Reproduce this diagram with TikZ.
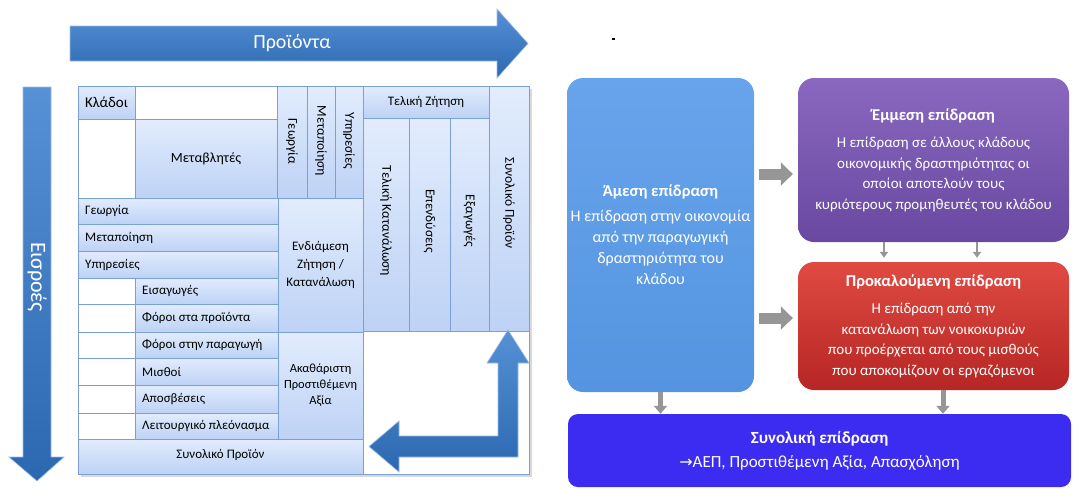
\documentclass[tikz,border=0pt]{standalone}
\usepackage{fontspec}
\setmainfont{Carlito}
\newfontfamily\arrowfont{DejaVu Sans}
\usetikzlibrary{positioning,arrows.meta}

\definecolor{gridline}{RGB}{122,160,214}
\definecolor{cellhi}{RGB}{226,236,253}
\definecolor{celllo}{RGB}{189,210,245}
\definecolor{barhi}{RGB}{86,145,214}
\definecolor{barlo}{RGB}{44,104,176}
\definecolor{directhi}{RGB}{104,164,236}
\definecolor{directlo}{RGB}{84,148,224}
\definecolor{indirecthi}{RGB}{138,104,192}
\definecolor{indirectlo}{RGB}{104,72,160}
\definecolor{inducedhi}{RGB}{224,74,66}
\definecolor{inducedlo}{RGB}{182,38,36}
\definecolor{totalc}{RGB}{60,44,242}
\definecolor{linkgrey}{RGB}{150,150,150}

\newcommand{\headline}{\bfseries\fontsize{16.5}{20}\selectfont}

\tikzset{
  cell/.style={draw=gridline, line width=0.8pt, top color=cellhi, bottom color=celllo},
  blank/.style={draw=gridline, line width=0.8pt, fill=white},
  celltext/.style={font=\fontsize{13}{15}\selectfont, align=center, inner sep=0pt},
  rowtext/.style={font=\fontsize{13}{15}\selectfont, anchor=west, inner sep=0pt},
  coltext/.style={font=\fontsize{13.5}{15}\selectfont, rotate=-90, inner sep=0pt},
  bigarrow/.style={draw=barhi!60!white, line width=0.6pt, top color=barhi, bottom color=barlo},
  arrowlabel/.style={font=\fontsize{20}{24}\selectfont, text=white},
  effect/.style={rounded corners=16pt, text=white, align=center, inner sep=0pt, font=\fontsize{15}{20.5}\selectfont},
  linkarrow/.style={draw=linkgrey, line width=11pt, -{Triangle[width=23pt,length=12pt]}, shorten <=5pt, shorten >=5pt},
  droparrow/.style={draw=linkgrey, line width=5pt, -{Triangle[width=13pt,length=8pt]}},
  tinyarrow/.style={draw=linkgrey, line width=2.5pt, -{Triangle[width=8pt,length=6pt]}, shorten >=4pt}
}

\begin{document}
\begin{tikzpicture}[x=1pt, y=-1pt]
  \useasboundingbox (0,0) rectangle (1073,488);

  % block arrows along the table
  \path[bigarrow] (70,26) -- (497,26) -- (497,9) -- (528,43.5) -- (497,78) -- (497,61) -- (70,61) -- cycle;
  \node[arrowlabel] (outputs) at (292,43.5) {Προϊόντα};
  \path[bigarrow] (23,87) -- (51,87) -- (51,457) -- (64,457) -- (37,481) -- (9,457) -- (23,457) -- cycle;
  \node[arrowlabel, font=\fontsize{22}{24}\selectfont, rotate=-90] (inputs) at (37,277) {Εισροές};

  % input-output table
  \fill[black!15] (81,89) rectangle (532,477);
  \draw[cell] (78,86) rectangle (135,119);
  \node[celltext, font=\fontsize{15}{17}\selectfont] (branches) at (106.5,102.5) {Κλάδοι};
  \draw[blank] (135,86) rectangle (277,119);
  \draw[blank] (78,119) rectangle (135,198);
  \draw[cell] (135,119) rectangle (277,198);
  \node[celltext, font=\fontsize{14}{16}\selectfont] (variables) at (206,158.5) {Μεταβλητές};
  \foreach \nm/\xa/\xb/\txt in {geo/277/307/Γεωργία, man/307/335/Μεταποίηση, serv/335/363/Υπηρεσίες} {
    \draw[cell] (\xa,86) rectangle (\xb,198);
    \node[coltext] (col\nm) at ({(\xa+\xb)/2},141) {\txt};
  }
  \draw[cell] (363,86) rectangle (489,118);
  \node[celltext] (finaldemand) at (426,102) {Τελική Ζήτηση};
  \foreach \nm/\xa/\xb/\txt in {cons/363/409/Τελική Κατανάλωση, inv/409/450/Επενδύσεις, exp/450/489/Εξαγωγές} {
    \draw[cell] (\xa,118) rectangle (\xb,331);
    \node[coltext] (col\nm) at ({(\xa+\xb)/2},221) {\txt};
  }
  \draw[cell] (489,86) rectangle (529,331);
  \node[coltext] (coltotal) at (509,203) {Συνολικό Προϊόν};

  % rows
  \foreach \nm/\ya/\yb/\txt in {geo/198/224/Γεωργία, man/224/251/Μεταποίηση, serv/251/278/Υπηρεσίες} {
    \draw[cell] (78,\ya) rectangle (278,\yb);
    \node[rowtext] (row\nm) at (85,{(\ya+\yb)/2}) {\txt};
  }
  \foreach \nm/\ya/\yb/\txt in {imp/278/304/Εισαγωγές, ptax/304/332/Φόροι στα προϊόντα,
      gtax/332/358/Φόροι στην παραγωγή, wage/358/385/Μισθοί, depr/385/413/Αποσβέσεις,
      surp/413/439/Λειτουργικό πλεόνασμα} {
    \draw[blank] (78,\ya) rectangle (135,\yb);
    \draw[cell] (135,\ya) rectangle (278,\yb);
    \node[rowtext] (row\nm) at (142,{(\ya+\yb)/2}) {\txt};
  }
  \draw[cell] (278,198) rectangle (363,332);
  \node[celltext, font=\fontsize{13}{18}\selectfont] (intermediate) at (320.5,265) {Ενδιάμεση\\Ζήτηση /\\Κατανάλωση};
  \draw[cell] (278,332) rectangle (363,439);
  \node[celltext, font=\fontsize{12.5}{16}\selectfont] (gva) at (320.5,385.5) {Ακαθάριστη\\Προστιθέμενη\\Αξία};
  \draw[cell] (78,439) rectangle (363,474);
  \node[celltext] (totalrow) at (220.5,455) {Συνολικό Προϊόν};
  \draw[blank] (363,331) rectangle (529,474);

  % return arrow in the empty corner
  \path[bigarrow] (508,330) -- (529,363) -- (518,363) -- (518,457) -- (399,457) -- (399,472)
    -- (369,446.5) -- (399,421) -- (399,436) -- (498,436) -- (498,363) -- (487,363) -- cycle;

  \fill (612,37.5) rectangle (614.5,39.5);

  % impact boxes
  \node[effect, font=\fontsize{16}{21}\selectfont, top color=directhi, bottom color=directlo, minimum width=187pt, minimum height=314pt] (direct) at (660.5,235)
    {{\headline Άμεση επίδραση}\\[4pt] Η επίδραση στην οικονομία\\ από την παραγωγική\\ δραστηριότητα του\\ κλάδου};
  \node[effect, top color=indirecthi, bottom color=indirectlo, minimum width=271pt, minimum height=164pt] (indirect) at (933.5,160)
    {{\headline Έμμεση επίδραση}\\[7pt] Η επίδραση σε άλλους κλάδους\\ οικονομικής δραστηριότητας οι\\ οποίοι αποτελούν τους\\ κυριότερους προμηθευτές του κλάδου};
  \node[effect, top color=inducedhi, bottom color=inducedlo, minimum width=271pt, minimum height=128pt] (induced) at (933.5,326)
    {{\headline Προκαλούμενη επίδραση}\\[7pt] Η επίδραση από την\\ κατανάλωση των νοικοκυριών\\ που προέρχεται από τους μισθούς\\ που αποκομίζουν οι εργαζόμενοι};
  \node[effect, fill=totalc, rounded corners=10pt, minimum width=503pt, minimum height=73pt, font=\fontsize{17}{24}\selectfont] (total) at (819.5,450.5)
    {{\headline\fontsize{17}{20}\selectfont Συνολική επίδραση}\\ {\arrowfont\fontsize{16}{24}\selectfont →}ΑΕΠ, Προστιθέμενη Αξία, Απασχόληση};

  % links between the effects
  \coordinate (upper) at ([yshift=-14pt]indirect.west);
  \coordinate (lower) at ([yshift=8pt]induced.west);
  \draw[linkarrow] (direct.east |- upper) -- (upper);
  \draw[linkarrow] (direct.east |- lower) -- (lower);
  \coordinate (feedA) at ([xshift=-49.5pt]indirect.south);
  \coordinate (feedB) at ([xshift=43.5pt]indirect.south);
  \draw[tinyarrow] (feedA) -- (feedA |- induced.north);
  \draw[tinyarrow] (feedB) -- (feedB |- induced.north);
  \coordinate (feedC) at ([xshift=9.5pt]induced.south);
  \draw[droparrow] (direct.south) -- (direct.south |- total.north);
  \draw[droparrow] (feedC) -- (feedC |- total.north);
\end{tikzpicture}
\end{document}
